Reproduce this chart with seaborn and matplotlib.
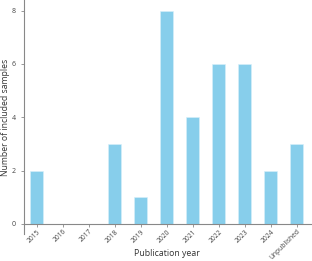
import matplotlib
matplotlib.use("Agg")
import matplotlib.pyplot as plt
import seaborn as sns
import pandas as pd

categories = ["2015", "2016", "2017", "2018", "2019", "2020", "2021", "2022", "2023", "2024", "Unpublished"]
counts = [2, 0, 0, 3, 1, 8, 4, 6, 6, 2, 3]
yticks = [0, 2, 4, 6, 8]

sns.set_style("white")
plt.rcParams['font.family'] = ['Open Sans', 'DejaVu Sans']

df = pd.DataFrame({"year": categories, "n": counts})

fig = plt.figure(figsize=(3.12, 2.61), dpi=100)
ax = fig.add_axes([24/312, (261-234)/261, 1 - 24/312, 234/261])
sns.barplot(data=df, x="year", y="n", color="#87CEEB", saturation=1, width=0.5,
            edgecolor="#d8f0fb", linewidth=0.4, ax=ax)

ax.set_xlim(-0.5, 10.58)
ax.set_ylim(-0.375, 8.40)
ax.set_yticks(yticks)
ax.set_yticklabels([str(v) for v in yticks])

grey = "#888888"
for s in ["top", "right"]:
    ax.spines[s].set_visible(False)
ax.spines["left"].set_color(grey)
ax.spines["left"].set_linewidth(0.8)
ax.spines["bottom"].set_position(("data", 0))
ax.spines["bottom"].set_color(grey)
ax.spines["bottom"].set_linewidth(0.8)

ax.tick_params(axis="y", which="both", left=True, length=2, width=0.6, color=grey,
               labelsize=5, labelcolor="#444444", pad=4)
ax.tick_params(axis="x", which="both", bottom=True, length=2.5, width=0.6, color=grey,
               labelsize=4.8, labelcolor="#444444", pad=0.5)
plt.setp(ax.get_xticklabels(), rotation=45, ha="right", va="top", rotation_mode="anchor")

ax.set_xlabel("Publication year", fontsize=6.3, color="#333333", va="center")
ax.set_ylabel("Number of included samples", fontsize=6.2, color="#333333", va="center")
ax.xaxis.set_label_coords((167 - 24) / 288, (234 - 253) / 234)
ax.yaxis.set_label_coords((6 - 24) / 288, 0.5)

fig.savefig("out.png", dpi=100)
